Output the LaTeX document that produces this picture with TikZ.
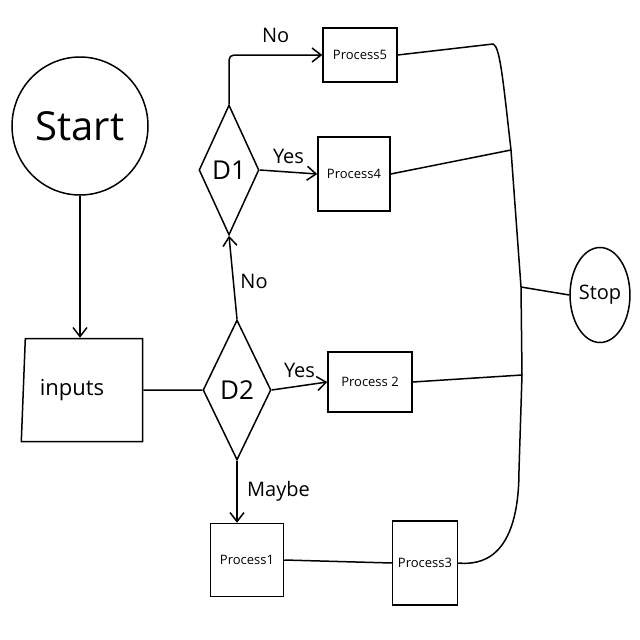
\documentclass[tikz,border=0pt]{standalone}
\usepackage{fontspec}
\setmainfont{Open Sans}
\usetikzlibrary{shapes.geometric,arrows.meta}
\begin{document}
\begin{tikzpicture}[x=1pt,y=-1pt,
  every path/.style={line width=1.5pt},
  shp/.style={draw,line width=1.5pt,inner sep=0pt},
  proc/.style={shp,rectangle,font=\fontsize{13}{15}\selectfont},
  dec/.style={shp,diamond,font=\fontsize{26}{28}\selectfont},
  lbl/.style={font=\fontsize{20}{22}\selectfont},
  arr/.style={-{Straight Barb[length=9pt,width=14pt,line width=1.5pt]}}]
\useasboundingbox (0,0) rectangle (640,640);
\node[shp,ellipse,minimum width=136pt,minimum height=138pt,font=\fontsize{40}{44}\selectfont] (start) at (80,126) {Start};
\node[shp,trapezium,trapezium left angle=82,trapezium right angle=90,trapezium stretches=true,minimum width=122pt,minimum height=103pt,font=\fontsize{22}{24}\selectfont] (inputs) at (84,390) {inputs\hspace*{24pt}};
\node[dec,minimum width=68pt,minimum height=140pt] (d2) at (237,390) {D2};
\node[dec,minimum width=60pt,minimum height=130pt] (d1) at (229,170) {D1};
\node[proc,minimum width=74pt,minimum height=54pt] (p5) at (360,55) {Process5};
\node[proc,minimum width=72pt,minimum height=74pt] (p4) at (354,174) {Process4};
\node[proc,minimum width=84pt,minimum height=60pt] (p2) at (370,382) {Process 2};
\node[proc,minimum width=73pt,minimum height=73pt] (p1) at (247,560) {Process1};
\node[proc,minimum width=65pt,minimum height=84pt] (p3) at (425,563) {Process3};
\node[shp,ellipse,minimum width=56pt,minimum height=95pt,font=\fontsize{20}{22}\selectfont] (stop) at (600,295) {Stop};
\coordinate (b1) at (493,44);
\coordinate (b4) at (511,150);
\coordinate (bs) at (521,287);
\coordinate (b2) at (522,375);
\coordinate (b3) at (519,470);
% connectors
\draw[arr] (start) -- (start.south |- inputs.north);
\draw (inputs.east) -- (d2.west);
\draw[arr] (d2.north) -- (d1.south) node[lbl,pos=0.45,right=3pt] {No};
\draw[arr,rounded corners=5pt] (d1.north) |- (p5.west) node[lbl,pos=0.75,above=8pt] {No};
\draw[arr] (d1.east) -- (p4.west) node[lbl,midway,above=4pt] {Yes};
\draw[arr] (d2.east) -- (p2.west) node[lbl,midway,above=4pt] {Yes};
\draw[arr] (d2.south) -- (p1.north -| d2.south) node[lbl,midway,right=6pt] {Maybe};
\draw (p1.east) -- (p3.west);
\draw (p5.east) -- (b1) .. controls (500,46) and (503,80) .. (b4) -- (bs) -- (b2) -- (b3) .. controls (519,560) and (480,565) .. (p3.east);
\draw (p4.east) -- (b4);
\draw (p2.east) -- (b2);
\draw (bs) -- (stop.west);
\end{tikzpicture}
\end{document}
